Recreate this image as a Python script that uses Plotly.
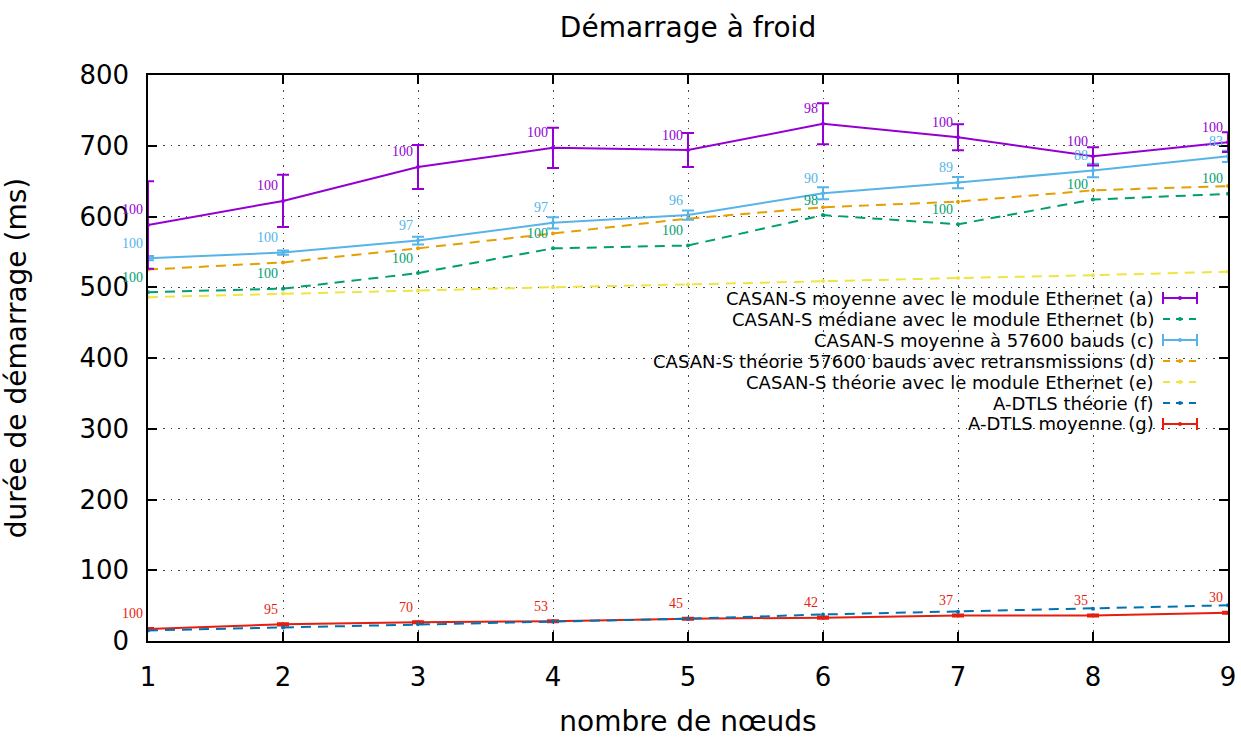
import plotly.graph_objects as go

nodes = [1, 2, 3, 4, 5, 6, 7, 8, 9]

a_mean = [588, 622, 670, 697, 694, 731, 712, 685, 705]
a_err = [62, 37, 31, 28.5, 24, 29, 18.5, 13, 14]
a_lab = ["100", "100", "100", "100", "100", "98", "100", "100", "100"]

b_median = [493, 498, 520, 555, 559, 602, 589, 624, 632]
b_lab = ["100", "100", "100", "100", "100", "98", "100", "100", "100"]

c_mean = [541, 549, 566, 591, 602, 633, 648, 665, 685]
c_err = [3, 3, 5.5, 8, 6.5, 8.5, 8, 9.5, 8]
c_lab = ["100", "100", "97", "97", "96", "90", "89", "88", "83"]

d_theory = [525, 535, 555, 576, 597, 613, 621, 637, 643]
e_theory = [486, 491, 495, 500, 504, 509, 513, 517, 522]
f_theory = [15, 19, 23.5, 27.5, 31.5, 37.5, 41.5, 45.5, 50.5]

g_mean = [17, 23.5, 26.5, 28, 31.5, 33, 36, 36, 40]
g_err = [1.5, 1.5, 1.5, 1.5, 1.5, 1.5, 1.5, 1.5, 1.5]
g_lab = ["100", "95", "70", "53", "45", "42", "37", "35", "30"]

legend_names = [
    "CASAN-S moyenne avec le module Ethernet (a)",
    "CASAN-S médiane avec le module Ethernet (b)",
    "CASAN-S moyenne à 57600 bauds (c)",
    "CASAN-S théorie 57600 bauds avec retransmissions (d)",
    "CASAN-S théorie avec le module Ethernet (e)",
    "A-DTLS théorie (f)",
    "A-DTLS moyenne (g)",
]

PURPLE = "#9400d3"
GREEN = "#009e73"
CYAN = "#56b4e9"
ORANGE = "#e69f00"
YELLOW = "#f0e442"
BLUE = "#0072b2"
RED = "#e51e10"

DASH = "10px,7px"

series = [
    dict(y=a_mean, err=a_err, color=PURPLE, dash="solid", kind="err"),
    dict(y=b_median, err=None, color=GREEN, dash=DASH, kind="dash"),
    dict(y=c_mean, err=c_err, color=CYAN, dash="solid", kind="err"),
    dict(y=d_theory, err=None, color=ORANGE, dash=DASH, kind="dash"),
    dict(y=e_theory, err=None, color=YELLOW, dash=DASH, kind="dash"),
    dict(y=f_theory, err=None, color=BLUE, dash=DASH, kind="dash"),
    dict(y=g_mean, err=g_err, color=RED, dash="solid", kind="err"),
]

# the page body margin is removed in post_script, so the figure fills the window
W, H = 1241, 738
L, T, R, B = 148, 75, 13, 97
PW = W - L - R
PH = H - T - B

fig = go.Figure()

for s, name in reversed(list(zip(series, legend_names))):
    kw = {}
    if s["err"] is not None:
        kw["error_y"] = dict(type="data", array=s["err"], visible=True,
                             color=s["color"], thickness=2, width=6)
    fig.add_trace(go.Scatter(
        x=nodes, y=s["y"], name=name, mode="lines+markers",
        line=dict(color=s["color"], width=2, dash=s["dash"]),
        marker=dict(color=s["color"], size=4),
        showlegend=False, **kw))

annotations = []
for ys, labs, col in [(a_mean, a_lab, PURPLE), (b_median, b_lab, GREEN),
                      (c_mean, c_lab, CYAN), (g_mean, g_lab, RED)]:
    for xv, yv, t in zip(nodes, ys, labs):
        annotations.append(dict(
            x=xv, y=yv, xref="x", yref="y", text=t, showarrow=False,
            xanchor="right", yanchor="middle", xshift=-3, yshift=15,
            font=dict(family="Liberation Serif", size=14, color=col)))

def px_x(p):
    return (p - L) / PW

def px_y(p):
    return (H - B - p) / PH

leg_y_px = [298, 319, 340, 361, 382, 403, 424]
text_x = px_x(1156)
sx0 = px_x(1163)
sx1 = px_x(1197)
shapes = [dict(type="rect", xref="paper", yref="paper",
               x0=px_x(540), x1=px_x(1215), y0=px_y(428), y1=px_y(289),
               fillcolor="white", line=dict(width=0), layer="between")]
for s, name, py in zip(series, legend_names, leg_y_px):
    yp = px_y(py)
    annotations.append(dict(
        x=text_x, y=yp, xref="paper", yref="paper", text=name, showarrow=False,
        xanchor="right", yanchor="middle",
        font=dict(family="DejaVu Sans", size=18, color="black")))
    if s["kind"] == "err":
        shapes.append(dict(type="line", xref="paper", yref="paper",
                           x0=sx0, x1=sx1, y0=yp, y1=yp,
                           line=dict(color=s["color"], width=2)))
        for xx in (sx0, sx1):
            shapes.append(dict(type="line", xref="paper", yref="paper",
                               x0=xx, x1=xx, y0=yp - 6 / PH, y1=yp + 6 / PH,
                               line=dict(color=s["color"], width=2)))
    else:
        shapes.append(dict(type="line", xref="paper", yref="paper",
                           x0=sx0, x1=sx1, y0=yp, y1=yp,
                           line=dict(color=s["color"], width=2, dash="7px,6px")))
    xm = (sx0 + sx1) / 2
    shapes.append(dict(type="circle", xref="paper", yref="paper",
                       x0=xm - 2 / PW, x1=xm + 2 / PW,
                       y0=yp - 2 / PH, y1=yp + 2 / PH,
                       fillcolor=s["color"], line=dict(width=0)))

axis_common = dict(
    showline=True, linecolor="black", linewidth=1.5, mirror="ticks",
    ticks="inside", ticklen=9, tickwidth=1.5, tickcolor="black",
    showgrid=True, gridcolor="#444", gridwidth=1, griddash="1.5px,6px",
    zeroline=False, ticklabelstandoff=12, automargin=False,
    ticklabeloverflow="allow",
    tickfont=dict(family="DejaVu Sans", size=26, color="black"),
)

fig.update_layout(
    width=W, height=H,
    margin=dict(l=L, r=R, t=T, b=B, autoexpand=False),
    paper_bgcolor="white", plot_bgcolor="white",
    title=dict(text="Démarrage à froid", x=688 / W, xanchor="center",
               y=1 - 27 / H, yanchor="middle",
               font=dict(family="DejaVu Sans", size=28, color="black")),
    xaxis=dict(range=[1, 9], dtick=1, tick0=1,
               title=dict(text="nombre de nœuds", standoff=28,
                          font=dict(family="DejaVu Sans", size=28, color="black")),
               **axis_common),
    yaxis=dict(range=[0, 800], dtick=100,
               title=dict(text="durée de démarrage (ms)", standoff=52,
                          font=dict(family="DejaVu Sans", size=28, color="black")),
               **axis_common),
    annotations=annotations,
    shapes=shapes,
    showlegend=False,
)

fig.write_html(
    "out.html",
    config={"displayModeBar": False},
    post_script="document.body.style.margin='0';document.body.style.overflow='hidden';",
)
